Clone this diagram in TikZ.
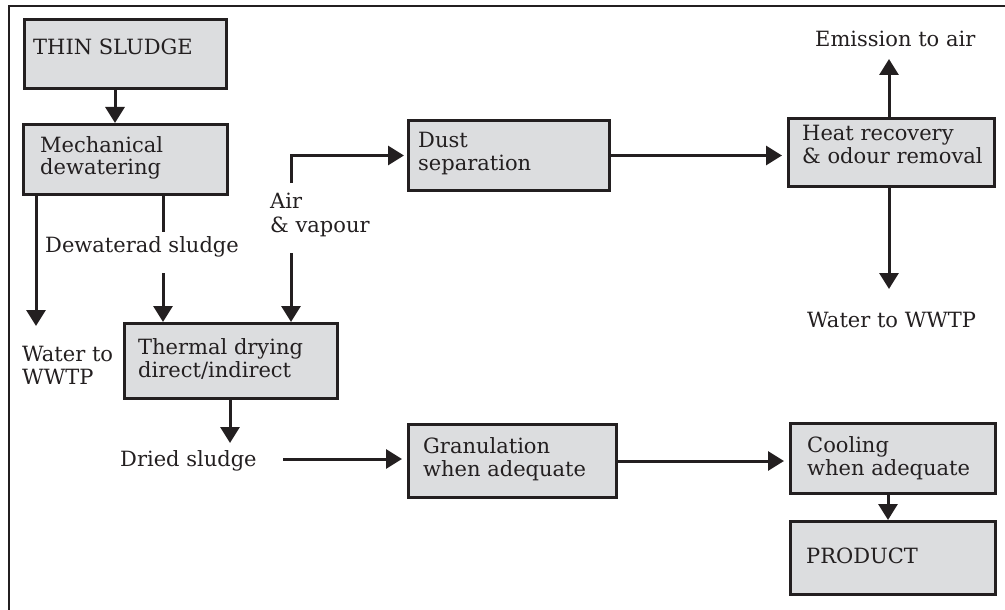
\documentclass[tikz,border=0pt]{standalone}
\usepackage{fontspec}
\setmainfont{DejaVu Serif}
\usetikzlibrary{arrows.meta}
\definecolor{ink}{HTML}{231F20}
\definecolor{boxgray}{HTML}{DCDDDF}
\tikzset{
  stagebox/.style={draw=ink, fill=boxgray, line width=3pt, inner sep=0pt, anchor=north west},
  lbl/.style={inner sep=0pt, anchor=base west, text=ink, font=\fontsize{21}{23}\selectfont},
  flow/.style={draw=ink, line width=3pt, -{Triangle[length=16pt, width=19pt]}},
  plain/.style={draw=ink, line width=3pt},
}
\begin{document}
\begin{tikzpicture}[x=1pt, y=-1pt]
\useasboundingbox (0,0) rectangle (1005,610);

% open frame
\draw[ink, line width=2.8pt] (9,611) -- (9,6) -- (1006,6);

% process boxes
\node[stagebox, minimum width=202pt, minimum height=69pt] (thin) at (23,18) {};
\node[stagebox, minimum width=204pt, minimum height=70pt] (mech) at (22,123) {};
\node[stagebox, minimum width=213pt, minimum height=75pt] (therm) at (123,322) {};
\node[stagebox, minimum width=201pt, minimum height=70pt] (dust) at (407,119) {};
\node[stagebox, minimum width=206pt, minimum height=68pt] (heat) at (787,117) {};
\node[stagebox, minimum width=208pt, minimum height=73pt] (gran) at (407,423) {};
\node[stagebox, minimum width=205pt, minimum height=70pt] (cool) at (789,422) {};
\node[stagebox, minimum width=205pt, minimum height=73pt] (prod) at (789,520) {};

% box texts
\node[lbl] (tthin) at (33,55) {THIN SLUDGE};
\node[lbl] (tmech1) at (40,152) {Mechanical};
\node[lbl] (tmech2) at (40,175) {dewatering};
\node[lbl] (ttherm1) at (138,354) {Thermal drying};
\node[lbl] (ttherm2) at (138,377) {direct/indirect};
\node[lbl] (tdust1) at (418,147) {Dust};
\node[lbl] (tdust2) at (418,170) {separation};
\node[lbl] (theat1) at (802,140) {Heat recovery};
\node[lbl] (theat2) at (802,163) {\&\ odour removal};
\node[lbl] (tgran1) at (423,453) {Granulation};
\node[lbl] (tgran2) at (423,476) {when adequate};
\node[lbl] (tcool1) at (807,452) {Cooling};
\node[lbl] (tcool2) at (807,475) {when adequate};
\node[lbl] (tprod) at (806,563) {PRODUCT};

% stream labels
\node[lbl] (ldew) at (45,252) {Dewaterad sludge};
\node[lbl] (lair1) at (270,208) {Air};
\node[lbl] (lair2) at (270,232) {\&\ vapour};
\node[lbl] (lw1) at (22,361) {Water to};
\node[lbl] (lw2) at (22,384) {WWTP};
\node[lbl] (ldried) at (120,466) {Dried sludge};
\node[lbl] (lemis) at (815,47) {Emission to air};
\node[lbl] (lwwtp) at (807,327) {Water to WWTP};

% free ends of the streams
\coordinate (wend) at (36,326);
\coordinate (dtop) at (163,232);
\coordinate (dbot) at (163,273);
\coordinate (abot) at (291,183);
\coordinate (atop) at (291,253);
\coordinate (dryend) at (230,443);
\coordinate (dstart) at (283,459);
\coordinate (emend) at (889,59);
\coordinate (wwend) at (889,289);

% connectors
\draw[flow] (thin.south -| 115,0) -- (mech.north -| 115,0);
\draw[flow] (mech.south -| wend) -- (wend);
\draw[plain] (mech.south -| dtop) -- (dtop);
\draw[flow] (dbot) -- (therm.north -| dbot);
\draw[flow] (abot) -- (abot |- dust.west) -- ([xshift=-3pt]dust.west);
\draw[flow] (atop) -- (therm.north -| atop);
\draw[flow] (therm.south -| dryend) -- (dryend);
\draw[flow] (dstart) -- ([xshift=-5pt]dstart -| gran.west);
\draw[flow] (dust.east) -- ([xshift=-5pt]dust.east -| heat.west);
\draw[flow] (heat.north -| emend) -- (emend);
\draw[flow] (heat.south -| wwend) -- (wwend);
\draw[flow] (gran.east) -- ([xshift=-5pt]gran.east -| cool.west);
\draw[flow] (cool.south -| 888,0) -- (prod.north -| 888,0);
\end{tikzpicture}
\end{document}
